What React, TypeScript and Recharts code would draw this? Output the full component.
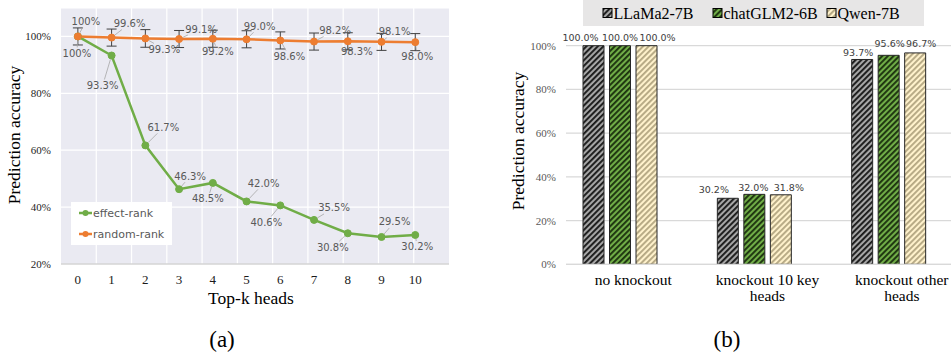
import React from 'react';
import {
  LineChart, Line, XAxis, YAxis, CartesianGrid, ErrorBar, LabelList,
  BarChart, Bar, Label,
} from 'recharts';

// ---------- data: chart (a) ----------
const topK = [0, 1, 2, 3, 4, 5, 6, 7, 8, 9, 10];
const effectRank = [100, 93.3, 61.7, 46.3, 48.5, 42.0, 40.6, 35.5, 30.8, 29.5, 30.2];
const randomRank = [100, 99.6, 99.3, 99.1, 99.2, 99.0, 98.6, 98.2, 98.3, 98.1, 98.0];
const randomErr = [3.0, 3.0, 3.1, 3.0, 3.0, 3.0, 3.0, 3.0, 3.0, 3.0, 3.0];
const lineYTicks = [20, 40, 60, 80, 100];

// label placement (dx, dy from the point), style only
const effectLabelOffsets = [
  [-1, 17], [-9, 30], [18, -18], [11, -13], [-5, 16], [17, -18],
  [-14, 17], [20, -12], [-15, 14], [13, -15], [2, 12],
];
const randomLabelOffsets = [
  [8, -15], [18, -14], [19, 11], [22, -10], [5, 13], [13, -13],
  [9, 16], [21, -11], [9, 10], [13, -10], [2, 14],
];

// ---------- data: chart (b) ----------
const categories = ['no knockout', 'knockout 10 key heads', 'knockout other heads'];
const categoryTickLines = [['no knockout'], ['knockout 10 key', 'heads'], ['knockout other', 'heads']];
const llama = [100.0, 30.2, 93.7];
const chatglm = [100.0, 32.0, 95.6];
const qwen = [100.0, 31.8, 96.7];
const barYTicks = [0, 20, 40, 60, 80, 100];
const seriesNames = ['LLaMa2-7B', 'chatGLM2-6B', 'Qwen-7B'];

// nudges of the bar value labels (style only): [dx, rise above bar top]
const llamaLabelPos = [[-13, 8], [-14, 9], [-4, 6.5]];
const chatglmLabelPos = [[0, 8], [-1, 7], [1, 11.5]];
const qwenLabelPos = [[11, 8], [8, 7.5], [6, 9]];

const lineData = topK.map((k, i) => ({
  k,
  effect: effectRank[i],
  random: randomRank[i],
  err: randomErr[i],
}));

const barData = categories.map((c, i) => ({
  name: c,
  llama: llama[i],
  chatglm: chatglm[i],
  qwen: qwen[i],
}));

const SERIF = '"Liberation Serif", "Times New Roman", serif';
const SANS = '"DejaVu Sans", "Noto Sans", sans-serif';
const GREEN = '#70ad47';
const ORANGE = '#ed7d31';

const fmtPct = (v: number) => (v === 100 ? '100%' : v.toFixed(1) + '%');

const makeLineLabel = (offsets: number[][]) => (props: any) => {
  const { x, y, value, index } = props;
  if (x == null || y == null) return null;
  const [dx, dy] = offsets[index] || [0, -12];
  const cx = x + dx;
  const cy = y + dy;
  const hw = 15;
  const hh = 6;
  const ax = Math.abs(dx);
  const ay = Math.abs(dy);
  const t = Math.min(ax > 0 ? hw / ax : Infinity, ay > 0 ? hh / ay : Infinity);
  let leader = null;
  if (t < 0.8) {
    const ex = cx - dx * t;
    const ey = cy - dy * t;
    const len = Math.hypot(dx, dy);
    const sx = x + (dx / len) * 4;
    const sy = y + (dy / len) * 4;
    leader = <line x1={sx} y1={sy} x2={ex} y2={ey} stroke="#a6a6a6" strokeWidth={0.8} />;
  }
  return (
    <g>
      {leader}
      <text x={cx} y={cy} textAnchor="middle" dominantBaseline="central"
        style={{ fontFamily: SANS, fontSize: 10 }} fill="#595959">{fmtPct(value)}</text>
    </g>
  );
};

const makeBarLabel = (pos: number[][]) => (props: any) => {
  const { x, y, width, value, index } = props;
  if (value == null) return null;
  const [dx, rise] = pos[index] || [0, 8];
  return (
    <text x={x + width / 2 + dx} y={y - rise} textAnchor="middle" dominantBaseline="central"
      style={{ fontFamily: SANS, fontSize: 9.5 }} fill="#404040">{Number(value).toFixed(1)}%</text>
  );
};

const makeYTick = (fill: string) => (props: any) => {
  const { x, y, payload } = props;
  return (
    <text x={x} y={y} textAnchor="end" dominantBaseline="central" style={{ fontFamily: SERIF, fontSize: 11 }} fill={fill}>
      {`${payload.value}%`}
    </text>
  );
};

const LineXTick = (props: any) => {
  const { x, y, payload } = props;
  return (
    <text x={x} y={y} dy="0.71em" textAnchor="middle" style={{ fontFamily: SERIF, fontSize: 13 }} fill="#1a1a1a">
      {payload.value}
    </text>
  );
};

const patterns = [
  { id: 'hatchGrey', base: '#a6a6a6', stripe: '#1a1a1a' },
  { id: 'hatchGreen', base: '#70ad47', stripe: '#1d330f' },
  { id: 'hatchCream', base: '#fff2cc', stripe: '#b5a883' },
];

const PatternDefs = ({ prefix }: { prefix: string }) => (
  <defs>
    {patterns.map((p) => (
      <pattern key={p.id} id={prefix + p.id} patternUnits="userSpaceOnUse" width={4} height={4}
        patternTransform="rotate(45)">
        <rect x={0} y={0} width={4} height={4} fill={p.base} />
        <rect x={0} y={0} width={1.9} height={4} fill={p.stripe} />
      </pattern>
    ))}
  </defs>
);

const BarTick = (props: any) => {
  const { x, y, payload } = props;
  const lines = categoryTickLines[payload.index] || [String(payload.value)];
  return (
    <text x={x} y={y} textAnchor="middle" style={{ fontFamily: SERIF, fontSize: 15.5 }} fill="#000">
      {lines.map((l: string, i: number) => (
        <tspan key={i} x={x} dy={i === 0 ? '0.71em' : 15.7}>{l}</tspan>
      ))}
    </text>
  );
};

const LeftLegend = () => (
  <svg width={101} height={43} style={{ position: 'absolute', left: 71, top: 202 }}>
    <rect x={0} y={0} width={101} height={43} fill="#fff" />
    {[
      { name: 'effect-rank', color: GREEN, y: 11 },
      { name: 'random-rank', color: ORANGE, y: 32 },
    ].map((it) => (
      <g key={it.name}>
        <line x1={8} x2={21} y1={it.y} y2={it.y} stroke={it.color} strokeWidth={2.5} />
        <circle cx={14.5} cy={it.y} r={3} fill={it.color} />
        <text x={22} y={it.y} dominantBaseline="central" style={{ fontFamily: SANS, fontSize: 11 }} fill="#595959">{it.name}</text>
      </g>
    ))}
  </svg>
);

const RightLegend = () => {
  const xs = [20, 130, 244];
  const ids = ['hatchGrey', 'hatchGreen', 'hatchCream'];
  return (
    <svg width={341} height={26} style={{ position: 'absolute', left: 583, top: 0 }}>
      <PatternDefs prefix="lg-" />
      <rect x={0} y={0} width={341} height={26} fill="#e7e6e6" />
      {seriesNames.map((n, i) => (
        <g key={n}>
          <rect x={xs[i]} y={8.5} width={9} height={9} fill={`url(#lg-${ids[i]})`} stroke="#000" strokeWidth={1} />
          <text x={xs[i] + 10.5} y={13.5} dominantBaseline="central" style={{ fontFamily: SERIF, fontSize: 16 }} fill="#000">{n}</text>
        </g>
      ))}
    </svg>
  );
};

const yTitle = (cx: number, cy: number) => () => (
  <text x={cx} y={cy} textAnchor="middle" dominantBaseline="central" transform={`rotate(-90 ${cx} ${cy})`}
    style={{ fontFamily: SERIF, fontSize: 17.5 }} fill="#000">Prediction accuracy</text>
);

export default function App() {
  return (
    <div style={{ position: 'fixed', left: 0, top: 0, width: 951, height: 353, overflow: 'hidden', background: '#fff' }}>
      <div style={{ position: 'absolute', left: 0, top: 0 }}>
        <LineChart width={460} height={320} data={lineData} margin={{ top: 8, right: 11, left: 11, bottom: 26 }}>
          <CartesianGrid
            fill="#eaeaf2"
            fillOpacity={1}
            stroke="#ffffff"
            strokeWidth={1.2}
            verticalCoordinatesGenerator={({ offset }: any) =>
              topK.slice(1).map((_, i) => offset.left + (offset.width * (i + 1)) / topK.length)
            }
          />
          <XAxis
            dataKey="k"
            type="number"
            domain={[-0.5, 10.5]}
            ticks={topK}
            allowDecimals={false}
            height={30}
            tickLine={false}
            tickSize={0}
            tickMargin={11}
            axisLine={{ stroke: '#bfbfbf' }}
            tick={<LineXTick />}
          >
            <Label
              content={(p: any) => {
                const vb = p.viewBox;
                return (
                  <text x={vb.x + vb.width / 2 - 4} y={vb.y + 34} textAnchor="middle" dominantBaseline="central"
                    style={{ fontFamily: SERIF, fontSize: 17.5 }} fill="#000">Top-k heads</text>
                );
              }}
            />
          </XAxis>
          <YAxis
            type="number"
            domain={[20, 110]}
            ticks={lineYTicks}
            width={50}
            axisLine={false}
            tickLine={false}
            tickSize={0}
            tickMargin={10}
            tick={makeYTick('#262626')}
          >
            <Label content={yTitle(14, 135)} />
          </YAxis>
          <Line
            dataKey="effect"
            stroke={GREEN}
            strokeWidth={2.5}
            dot={{ r: 3.5, fill: GREEN, stroke: GREEN, strokeWidth: 1 }}
            isAnimationActive={false}
          >
            <LabelList dataKey="effect" content={makeLineLabel(effectLabelOffsets)} />
          </Line>
          <Line
            dataKey="random"
            stroke={ORANGE}
            strokeWidth={2.5}
            dot={{ r: 3.5, fill: ORANGE, stroke: ORANGE, strokeWidth: 1 }}
            isAnimationActive={false}
          >
            <ErrorBar dataKey="err" width={5} strokeWidth={1} stroke="#404040" direction="y" />
            <LabelList dataKey="random" content={makeLineLabel(randomLabelOffsets)} />
          </Line>
        </LineChart>
        <LeftLegend />
      </div>

      <div style={{ position: 'absolute', left: 490, top: 0 }}>
        <BarChart width={490} height={320} data={barData} margin={{ top: 45.7, right: 11, left: 16, bottom: 25.7 }}
          barSize={21} barGap={5.5}>
          <PatternDefs prefix="bar-" />
          <CartesianGrid vertical={false} stroke="#d9d9d9" strokeWidth={1.2} />
          <XAxis
            dataKey="name"
            height={30}
            tickLine={false}
            tickSize={0}
            tickMargin={10}
            axisLine={{ stroke: '#d9d9d9', strokeWidth: 1.2 }}
            tick={<BarTick />}
            interval={0}
          />
          <YAxis
            type="number"
            domain={[0, 100]}
            ticks={barYTicks}
            width={60}
            axisLine={false}
            tickLine={false}
            tickSize={0}
            tickMargin={10}
            tick={makeYTick('#595959')}
          >
            <Label content={yTitle(28, 141)} />
          </YAxis>
          <Bar dataKey="llama" name={seriesNames[0]} fill="url(#bar-hatchGrey)" stroke="#262626" strokeWidth={1} isAnimationActive={false}>
            <LabelList dataKey="llama" content={makeBarLabel(llamaLabelPos)} />
          </Bar>
          <Bar dataKey="chatglm" name={seriesNames[1]} fill="url(#bar-hatchGreen)" stroke="#262626" strokeWidth={1} isAnimationActive={false}>
            <LabelList dataKey="chatglm" content={makeBarLabel(chatglmLabelPos)} />
          </Bar>
          <Bar dataKey="qwen" name={seriesNames[2]} fill="url(#bar-hatchCream)" stroke="#262626" strokeWidth={1} isAnimationActive={false}>
            <LabelList dataKey="qwen" content={makeBarLabel(qwenLabelPos)} />
          </Bar>
          <Bar dataKey="unused" legendType="none" fill="none" isAnimationActive={false} />
        </BarChart>
      </div>
      <RightLegend />

      <div style={{ position: 'absolute', left: 0, top: 326, width: 444, textAlign: 'center', fontFamily: SERIF, fontSize: 23, lineHeight: '28px', color: '#000' }}>(a)</div>
      <div style={{ position: 'absolute', left: 627, top: 326, width: 200, textAlign: 'center', fontFamily: SERIF, fontSize: 23, lineHeight: '28px', color: '#000' }}>(b)</div>
    </div>
  );
}
